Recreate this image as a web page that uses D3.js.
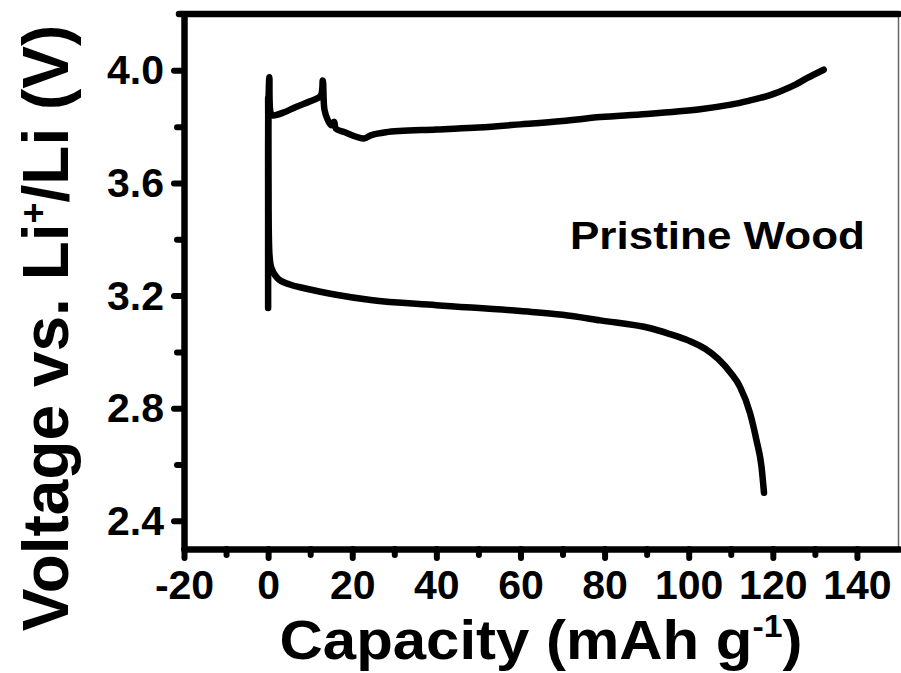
<!DOCTYPE html>
<html lang="en">
<head>
    <meta charset="UTF-8">
    <title>Pristine Wood charge / discharge</title>
    <script src="https://d3js.org/d3.v7.min.js"></script>
    <style>
        body { margin: 0; background: #fff; }
        text { font-family: "Liberation Sans", Arial, sans-serif; font-weight: bold; fill: #000; }
    </style>
</head>
<body>
    <div id="chart"></div>
    <script>
        // values: [capacity mAh/g, voltage V]
        const chargeData = [
            [0, 3.156], [0, 3.5], [0.05, 3.85], [0.3, 3.975], [0.6, 3.85],
            [1.1, 3.84], [4, 3.852], [6.6, 3.87], [10, 3.89], [12.5, 3.91],
            [13.0, 3.964], [13.4, 3.86], [14.2, 3.823], [15.0, 3.805], [15.7, 3.817],
            [16.1, 3.793], [18.1, 3.781], [22.8, 3.758], [24.4, 3.769], [28, 3.78],
            [40, 3.79], [50, 3.797], [60, 3.808], [70, 3.82], [79, 3.834],
            [90, 3.845], [102.7, 3.862], [110, 3.878], [114.6, 3.893], [119, 3.91],
            [122.4, 3.929], [125.5, 3.95], [128.1, 3.972], [132.1, 4.002]
        ];
        const dischargeData = [
            [0, 3.9], [0.1, 3.5], [0.3, 3.35], [0.7, 3.302], [2.3, 3.261],
            [5, 3.24], [8.6, 3.226], [16.5, 3.202], [24.4, 3.184], [40, 3.166],
            [60, 3.145], [70, 3.132], [79, 3.112], [90.9, 3.084], [95, 3.066],
            [100, 3.04], [104, 3.01], [107, 2.975], [110, 2.925], [112.2, 2.876],
            [114.6, 2.782], [116.1, 2.687], [117.3, 2.593], [117.9, 2.50]
        ];
        const xTicks = [-20, 0, 20, 40, 60, 80, 100, 120, 140];
        const xMinorTicks = [-10, 10, 30, 50, 70, 90, 110, 130];
        const yTicks = [2.4, 2.8, 3.2, 3.6, 4.0];
        const yMinorTicks = [2.6, 3.0, 3.4, 3.8];

        const margin = {top: 14, right: 2, bottom: 124, left: 184},
            width = 901 - margin.left - margin.right,
            height = 673 - margin.top - margin.bottom;

        const svg = d3.select("#chart")
          .append("svg")
            .attr("width", 901)
            .attr("height", 673);
        const g = svg.append("g")
            .attr("transform", `translate(${margin.left},${margin.top})`);

        const x = d3.scaleLinear().domain([-20, 150]).range([0, width]);
        const y = d3.scaleLinear().domain([2.3, 4.2]).range([height, 0]);

        // thin right border, then the thick top line
        g.append("line")
            .attr("x1", width - 0.5).attr("x2", width - 0.5)
            .attr("y1", 0).attr("y2", height)
            .style("stroke", "#666").style("stroke-width", "1.5px");
        g.append("line")
            .attr("x1", -5).attr("x2", width)
            .attr("y1", 0).attr("y2", 0)
            .style("stroke", "#000").style("stroke-width", "6.5px")
            .style("stroke-linecap", "round");

        // minor ticks
        g.append("g")
            .attr("transform", `translate(0,${height})`)
            .call(d3.axisBottom(x).tickValues(xMinorTicks).tickSize(6).tickFormat(""))
            .call(s => s.select(".domain").remove());
        g.append("g")
            .call(d3.axisLeft(y).tickValues(yMinorTicks).tickSize(7).tickFormat(""))
            .call(s => s.select(".domain").remove());

        // major axes
        const xAxis = g.append("g")
            .attr("transform", `translate(0,${height})`)
            .call(d3.axisBottom(x).tickValues(xTicks).tickSize(9).tickSizeOuter(0).tickFormat(d => String(d)));
        xAxis.selectAll("text")
            .attr("y", 50).attr("dy", null)
            .style("font-size", "41px");

        const yAxis = g.append("g")
            .call(d3.axisLeft(y).tickValues(yTicks).tickSize(10).tickSizeOuter(0).tickFormat(d3.format(".1f")));
        yAxis.selectAll("text")
            .attr("x", -20).attr("dy", "0.33em")
            .style("font-size", "41px");

        g.selectAll(".tick line")
            .style("stroke", "#000").style("stroke-width", "6px")
            .style("stroke-linecap", "round");
        g.selectAll(".domain")
            .style("stroke", "#000").style("stroke-width", "6.5px")
            .style("stroke-linecap", "round");

        // curves
        const chargeLine = d3.line()
            .x(d => x(d[0]))
            .y(d => y(d[1]))
            .curve(d3.curveCatmullRom.alpha(0.5));
        const dischargeLine = d3.line()
            .x(d => x(d[0]))
            .y(d => y(d[1]))
            .curve(d3.curveMonotoneX);

        [[chargeData, chargeLine], [dischargeData, dischargeLine]].forEach(([data, lineGen]) => {
            g.append("path")
                .datum(data)
                .attr("fill", "none")
                .style("stroke", "#000")
                .style("stroke-width", "6.5px")
                .style("stroke-linejoin", "round")
                .style("stroke-linecap", "round")
                .attr("d", lineGen);
        });

        // label inside the plot
        svg.append("text")
            .attr("x", 570).attr("y", 249)
            .attr("textLength", 295)
            .attr("lengthAdjust", "spacingAndGlyphs")
            .style("font-size", "39px")
            .text("Pristine Wood");

        // x axis title
        const xTitle = svg.append("text")
            .attr("transform", "translate(541,659) scale(1.09,1)")
            .attr("text-anchor", "middle")
            .style("font-size", "55px");
        xTitle.append("tspan").text("Capacity (mAh g");
        xTitle.append("tspan").attr("dy", -22).style("font-size", "31px").text("-1");
        xTitle.append("tspan").attr("dy", 22).text(")");

        // y axis title
        const yTitle = svg.append("text")
            .attr("transform", "translate(68,328) rotate(-90)")
            .attr("text-anchor", "middle")
            .style("font-size", "64px");
        yTitle.append("tspan").text("Voltage vs. Li");
        yTitle.append("tspan").attr("dy", -22).style("font-size", "36px").text("+");
        yTitle.append("tspan").attr("dy", 22).text("/Li (V)");
    </script>
</body>
</html>
